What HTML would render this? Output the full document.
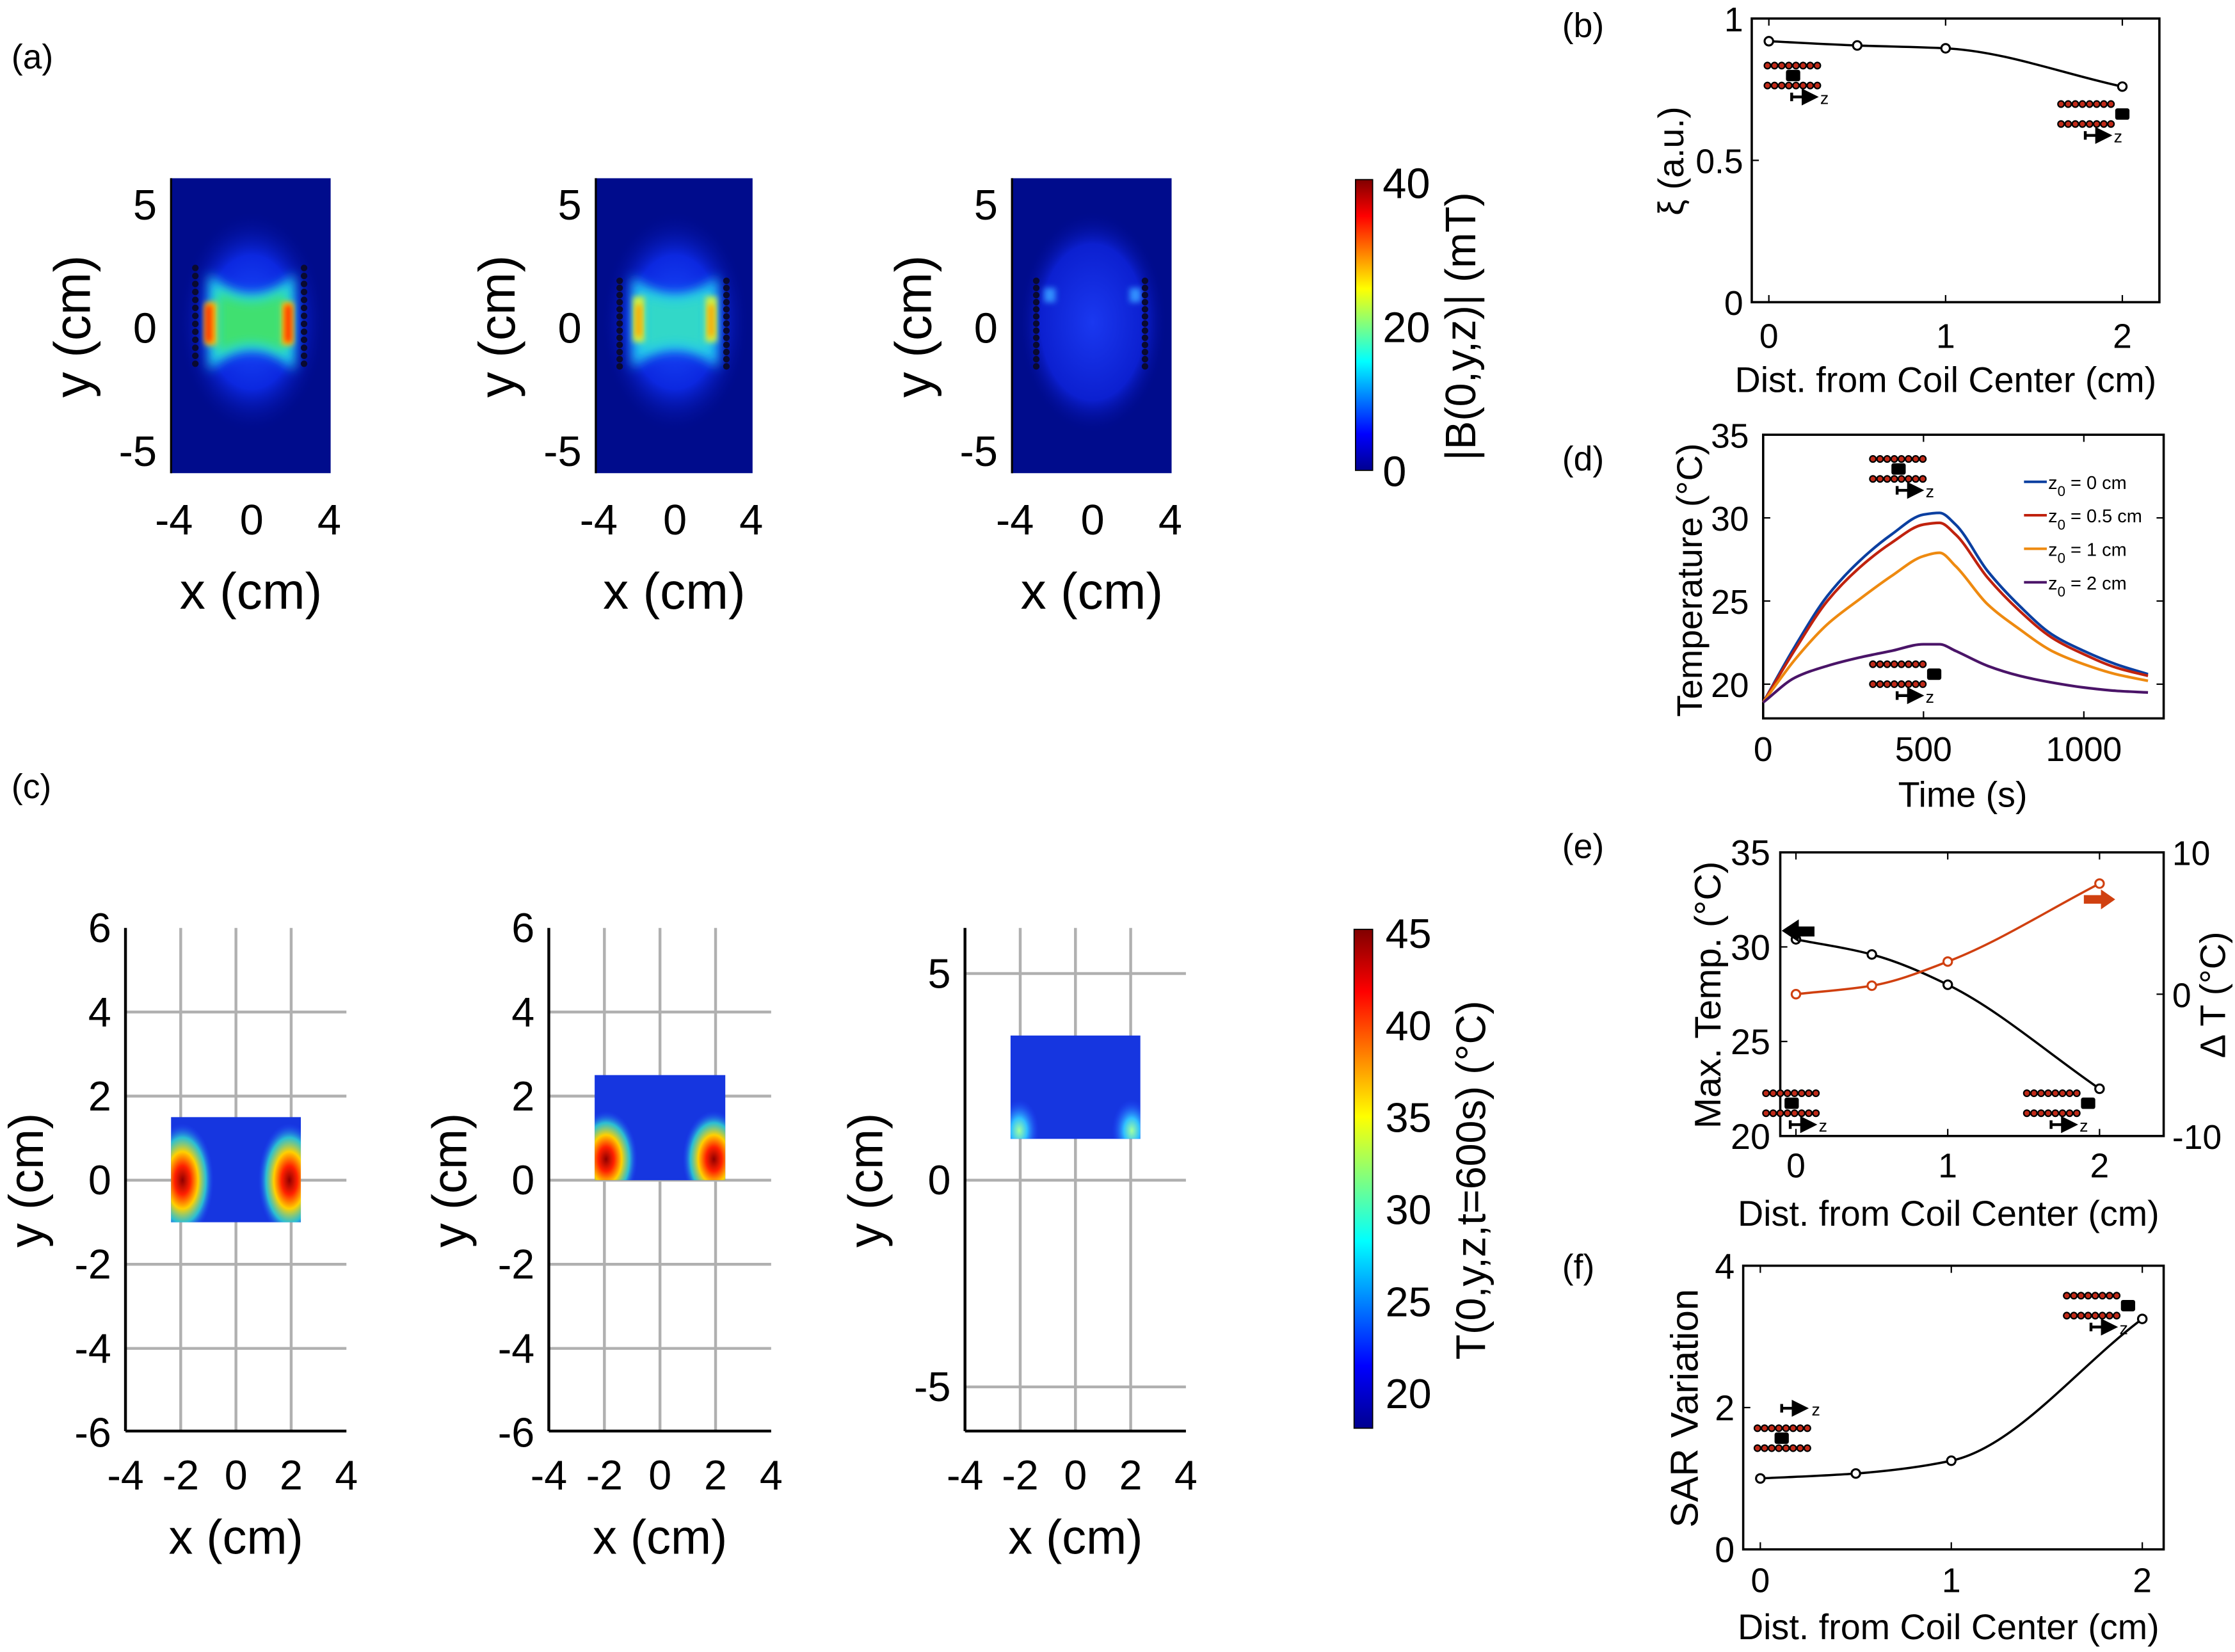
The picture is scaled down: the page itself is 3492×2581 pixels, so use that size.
<!DOCTYPE html>
<html><head><meta charset="utf-8"><style>
html,body{margin:0;padding:0;background:#fff}
svg{display:block}
text{font-family:"Liberation Sans",sans-serif;fill:#000}
</style></head><body>
<svg id="fig" xmlns="http://www.w3.org/2000/svg" width="3492" height="2581" viewBox="0 0 1568 1159">
<defs>
<linearGradient id="jet" x1="0" y1="1" x2="0" y2="0">
<stop offset="0" stop-color="#00008f"/><stop offset="0.125" stop-color="#0000ff"/><stop offset="0.375" stop-color="#00ffff"/><stop offset="0.625" stop-color="#ffff00"/><stop offset="0.875" stop-color="#ff0000"/><stop offset="1" stop-color="#800000"/>
</linearGradient>
<radialGradient id="glow"><stop offset="0" stop-color="#1a50ff"/><stop offset="0.6" stop-color="#0c28e0"/><stop offset="1" stop-color="#000a90" stop-opacity="0"/></radialGradient>
<radialGradient id="glow3"><stop offset="0" stop-color="#1a38f0"/><stop offset="0.7" stop-color="#0c20d0"/><stop offset="1" stop-color="#000a90" stop-opacity="0"/></radialGradient>
<radialGradient id="tRed"><stop offset="0" stop-color="#900000"/><stop offset="0.25" stop-color="#ff2000"/><stop offset="0.5" stop-color="#ffd000"/><stop offset="0.75" stop-color="#30e0d0" stop-opacity="0.8"/><stop offset="1" stop-color="#2040ff" stop-opacity="0"/></radialGradient>
<radialGradient id="tCyan"><stop offset="0" stop-color="#a0ffa0"/><stop offset="0.4" stop-color="#30c0ff"/><stop offset="1" stop-color="#2040ff" stop-opacity="0"/></radialGradient>
<filter id="blur4" x="-50%" y="-50%" width="200%" height="200%"><feGaussianBlur stdDeviation="4"/></filter>
<filter id="blur2" x="-50%" y="-50%" width="200%" height="200%"><feGaussianBlur stdDeviation="2"/></filter>
<marker id="ah" markerWidth="6" markerHeight="6" refX="5" refY="3" orient="auto"><path d="M0,0L6,3L0,6z" fill="#000"/></marker>
</defs>
<g id="root"></g>
</svg>
<script>
// ---------- data ----------
const bDist = [0, 0.5, 1, 2];
const bXi = [0.92, 0.905, 0.895, 0.76];
const dTime = [0,100,200,300,400,500,550,600,700,800,900,1000,1100,1200];
const dZ0 = [18.9,22.3,25.3,27.4,29.0,30.2,30.3,29.6,26.8,24.7,23.0,22.0,21.2,20.6];
const dZ05 = [18.9,22.1,25.0,27.0,28.5,29.6,29.7,29.0,26.4,24.4,22.8,21.8,21.0,20.5];
const dZ1 = [18.9,21.5,23.6,25.1,26.5,27.7,27.9,27.1,24.8,23.3,22.0,21.2,20.6,20.2];
const dZ2 = [18.9,20.4,21.1,21.6,22.0,22.4,22.4,22.0,21.1,20.5,20.1,19.8,19.6,19.5];
const dLabels = ["z0 = 0 cm","z0 = 0.5 cm","z0 = 1 cm","z0 = 2 cm"];
const eDist = [0, 0.5, 1, 2];
const eMaxT = [30.4, 29.6, 28.0, 22.5];
const eDeltaT = [0, 0.6, 2.3, 7.8];
const fDist = [0, 0.5, 1, 2];
const fSAR = [1.0, 1.07, 1.25, 3.25];
const aXTicks = [-4, 0, 4];
const aYTicks = [5, 0, -5];
const cXTicks = [-4,-2,0,2,4];
const cYTicks = [6,4,2,0,-2,-4,-6];
const c3YTicks = [5,0,-5];
const cHeatY = [[-1,1.5],[0,2.5],[1,3.5]];

// ---------- helpers ----------
const NS="http://www.w3.org/2000/svg";
const root=document.getElementById('root');
function el(tag,attrs,parent,txt){const e=document.createElementNS(NS,tag);for(const k in attrs)e.setAttribute(k,attrs[k]);if(txt!==undefined)e.textContent=txt;(parent||root).appendChild(e);return e;}
function lin(d0,d1,r0,r1){return v=>r0+(v-d0)*(r1-r0)/(d1-d0);}
function smooth(pts){ // monotone cubic
 const n=pts.length,dx=[],m=[],t=[];
 for(let i=0;i<n-1;i++){dx[i]=pts[i+1][0]-pts[i][0];m[i]=(pts[i+1][1]-pts[i][1])/dx[i];}
 t[0]=m[0];t[n-1]=m[n-2];
 for(let i=1;i<n-1;i++){t[i]=(m[i-1]*m[i]<=0)?0:(3*(dx[i-1]+dx[i]))/((2*dx[i]+dx[i-1])/m[i-1]+(dx[i]+2*dx[i-1])/m[i]);}
 let d=`M${pts[0][0]},${pts[0][1]}`;
 for(let i=0;i<n-1;i++){const h=dx[i]/3;d+=`C${pts[i][0]+h},${pts[i][1]+t[i]*h} ${pts[i+1][0]-h},${pts[i+1][1]-t[i+1]*h} ${pts[i+1][0]},${pts[i+1][1]}`;}
 return d;}
function polyl(pts){return 'M'+pts.map(p=>p.join(',')).join('L');}

[["(a)",8,48],["(c)",8,560],["(b)",1096,26],["(d)",1096,330],["(e)",1096,602],["(f)",1096,897]].forEach(([t,x,y])=>{
 const e=el('text',{x:x,y:y,'font-size':24},root,t);
 
 
});

// ---------- panel (a) ----------
const aPlots=[{x0:120,x1:232,type:0},{x0:418,x1:528,type:1},{x0:710,x1:822,type:2}];
aPlots.forEach((p,i)=>{
 const g=el('g',{});
 
 
 const sx=lin(-4,4,p.x0+2,p.x1-1), sy=lin(5,-5,143,316);
 const top=125,bot=332;
 const clip=el('clipPath',{id:'ac'+i},g);el('rect',{x:p.x0,y:top,width:p.x1-p.x0,height:bot-top},clip);
 const hg=el('g',{'clip-path':`url(#ac${i})`},g);
 el('rect',{x:p.x0,y:top,width:p.x1-p.x0,height:bot-top,fill:'#000c8c'},hg);
 const cx=sx(0),cy=sy(0.2);
 el('ellipse',{cx:cx,cy:cy,rx:52,ry:78,fill:p.type===2?'url(#glow3)':'url(#glow)'},hg);
 const L=sx(-2.9),R=sx(2.7);
 function hour(w,h,pinch,fill,f){el('path',{d:`M${cx-w},${cy-h}Q${cx},${cy-pinch} ${cx+w},${cy-h}L${cx+w},${cy+h}Q${cx},${cy+pinch} ${cx-w},${cy+h}Z`,fill:fill,filter:f},hg);}
 if(p.type===0){
  hour(30,34,6,'#20d8e8','url(#blur4)');
  hour(24,22,8,'#40e070','url(#blur4)');
  [[sx(-2.1),1],[sx(1.85),-1]].forEach(([x,s])=>{el('rect',{x:x-4,y:cy-14,width:8,height:30,fill:'#ffd000',filter:'url(#blur2)'},hg);el('rect',{x:x-3+s*-1,y:cy-12,width:5,height:26,fill:'#ff3000',filter:'url(#blur2)'},hg);});
 }else if(p.type===1){
  hour(30,32,8,'#20c8f0','url(#blur4)');
  hour(22,20,10,'#30d8c8','url(#blur4)');
  [sx(-1.9),sx(1.9)].forEach(x=>{el('rect',{x:x-4,y:cy-18,width:8,height:32,fill:'#d0f040',filter:'url(#blur2)'},hg);el('rect',{x:x-2,y:cy-12,width:4,height:22,fill:'#ffa000',filter:'url(#blur2)'},hg);});
 }else{
  [sx(-2.2),sx(2.2)].forEach(x=>el('rect',{x:x-4,y:cy-24,width:8,height:10,fill:'#3090ff',filter:'url(#blur2)'},hg));
 }
 const n=13,y0=p.type===0?188:197,step=p.type===0?5.6:5.0;
 [L,R].forEach(x=>{for(let k=0;k<n;k++){el('circle',{cx:x,cy:y0+k*step,r:2.3,fill:'#0a0a30'},hg);}});
 el('line',{x1:p.x0,y1:top,x2:p.x0,y2:bot,stroke:'#000','stroke-width':1.5},g);
 aXTicks.forEach(v=>{el('text',{x:sx(v),y:375,'font-size':30,'text-anchor':'middle'},g,v);});
 aYTicks.forEach(v=>{el('text',{x:p.x0-10,y:sy(v)+11,'font-size':30,'text-anchor':'end'},g,v);});
 el('text',{x:(p.x0+p.x1)/2,y:427,'font-size':36,'text-anchor':'middle'},g,'x (cm)');
 el('text',{x:0,y:0,'font-size':36,'text-anchor':'middle',transform:`translate(${p.x0-57},229) rotate(-90)`},g,'y (cm)');
});
{const g=el('g',{});
 el('rect',{x:951,y:126,width:12,height:204,fill:'url(#jet)',stroke:'#000','stroke-width':0.8},g);
 const cy=lin(0,40,330,128);[0,20,40].forEach(v=>el('text',{x:970,y:cy(v)+11,'font-size':30},g,v));
 el('text',{x:0,y:0,'font-size':30,'text-anchor':'middle',transform:'translate(1035,229) rotate(-90)'},g,'|B(0,y,z)| (mT)');}

// ---------- panel (c) ----------
const cPlots=[{x0:88,x1:243,yt:cYTicks},{x0:385,x1:541,yt:cYTicks},{x0:677,x1:832,yt:c3YTicks}];
cPlots.forEach((p,i)=>{
 const g=el('g',{});
 const sx=lin(-4,4,p.x0,p.x1), sy=i<2?lin(6,-6,651,1005):lin(5,-5,683,973);
 const yTop=651,yBot=1004;
 [-2,0,2].forEach(v=>el('line',{x1:sx(v),y1:yTop,x2:sx(v),y2:yBot,stroke:'#b0b0b0','stroke-width':2},g));
 (i<2?[4,2,0,-2,-4]:[5,0,-5]).forEach(v=>el('line',{x1:p.x0,y1:sy(v),x2:p.x1,y2:sy(v),stroke:'#b0b0b0','stroke-width':2},g));
 const [h0,h1]=cHeatY[i];
 const hx0=sx(-2.35),hx1=sx(2.35),hy0=sy(h1),hy1=sy(h0);
 el('rect',{x:hx0,y:hy0,width:hx1-hx0,height:hy1-hy0,fill:'#1636e0'},g);
 const clip=el('clipPath',{id:'cc'+i},g);el('rect',{x:hx0,y:hy0,width:hx1-hx0,height:hy1-hy0},clip);
 const hg=el('g',{'clip-path':`url(#cc${i})`},g);
 const hy=sy(i===0?0:0.5);
 if(i<2){[hx0+8,hx1-8].forEach(x=>el('ellipse',{cx:x,cy:hy,rx:22,ry:i===0?40:34,fill:'url(#tRed)'},hg));}
 else{[hx0+6,hx1-6].forEach(x=>el('ellipse',{cx:x,cy:sy(1.2),rx:14,ry:22,fill:'url(#tCyan)'},hg));}
 el('line',{x1:p.x0,y1:yTop,x2:p.x0,y2:yBot,stroke:'#000','stroke-width':2},g);
 el('line',{x1:p.x0,y1:yBot,x2:p.x1,y2:yBot,stroke:'#000','stroke-width':2},g);
 cXTicks.forEach(v=>el('text',{x:sx(v),y:1045,'font-size':29,'text-anchor':'middle'},g,v));
 p.yt.forEach(v=>el('text',{x:p.x0-10,y:sy(v)+10,'font-size':29,'text-anchor':'end'},g,v));
 el('text',{x:(p.x0+p.x1)/2,y:1090,'font-size':34,'text-anchor':'middle'},g,'x (cm)');
 el('text',{x:0,y:0,'font-size':34,'text-anchor':'middle',transform:`translate(${p.x0-58},828) rotate(-90)`},g,'y (cm)');
});
{const g=el('g',{});
 el('rect',{x:950,y:652,width:13,height:350,fill:'url(#jet)',stroke:'#000','stroke-width':0.8},g);
 const cy=lin(20,45,978,655);[20,25,30,35,40,45].forEach(v=>el('text',{x:972,y:cy(v)+10,'font-size':29},g,v));
 el('text',{x:0,y:0,'font-size':29,'text-anchor':'middle',transform:'translate(1042,828) rotate(-90)'},g,'T(0,y,z,t=600s) (°C)');}

function coil(x,y,pos,g){
 for(const ry of [y,y+14])for(let k=0;k<8;k++){el('circle',{cx:x+k*5,cy:ry,r:2.2,fill:'#c02a18',stroke:'#000','stroke-width':1},g);}
 const bx=pos==='center'?x+13:x+38;
 el('rect',{x:bx,y:y+3,width:10,height:8,rx:1.5,fill:'#000'},g);
 el('line',{x1:x+17,y1:y+22,x2:x+34,y2:y+22,stroke:'#000','stroke-width':2,'marker-end':'url(#ah)'},g);
 el('line',{x1:x+17,y1:y+19,x2:x+17,y2:y+25,stroke:'#000','stroke-width':2},g);
 el('text',{x:x+37,y:y+27,'font-size':12},g,'z');
}
function frame(g,x0,y0,x1,y1){el('rect',{x:x0,y:y0,width:x1-x0,height:y1-y0,fill:'none',stroke:'#000','stroke-width':1.6},g);}

// ---------- panel (b) ----------
{const g=el('g',{});
 const X0=1229,sx=lin(0,2,1241,1489),sy=lin(0,1,212,13);
 frame(g,X0,13,1515,212);
 [0,1,2].forEach(v=>{el('line',{x1:sx(v),y1:212,x2:sx(v),y2:207,stroke:'#000'},g);el('line',{x1:sx(v),y1:13,x2:sx(v),y2:18,stroke:'#000'},g);el('text',{x:sx(v),y:244,'font-size':24,'text-anchor':'middle'},g,v);});
 [[0,'0'],[0.5,'0.5'],[1,'1']].forEach(([v,t])=>{el('line',{x1:X0,y1:sy(v),x2:X0+5,y2:sy(v),stroke:'#000'},g);el('text',{x:X0-6,y:sy(v)+9,'font-size':24,'text-anchor':'end'},g,t);});
 el('text',{x:1365,y:275,'font-size':25,'text-anchor':'middle'},g,'Dist. from Coil Center (cm)');
 el('text',{x:0,y:0,'font-size':25,'text-anchor':'middle',transform:'translate(1181,113) rotate(-90)'},g,'ξ (a.u.)');
 const pts=bDist.map((d,i)=>[sx(d),sy(bXi[i])]);
 el('path',{d:smooth(pts),fill:'none',stroke:'#000','stroke-width':1.6},g);
 pts.forEach(p=>el('circle',{cx:p[0],cy:p[1],r:3,fill:'#fff',stroke:'#000','stroke-width':1.4},g));
 coil(1240,46,'center',g);coil(1446,73,'edge',g);}

// ---------- panel (d) ----------
{const g=el('g',{});
 const X0=1237,sx=lin(0,1000,1237,1462),sy=lin(20,35,480,305);
 frame(g,X0,305,1518,504);
 [0,500,1000].forEach(v=>{el('line',{x1:sx(v),y1:504,x2:sx(v),y2:499,stroke:'#000'},g);el('line',{x1:sx(v),y1:305,x2:sx(v),y2:310,stroke:'#000'},g);el('text',{x:sx(v),y:534,'font-size':24,'text-anchor':'middle'},g,v);});
 [20,25,30,35].forEach(v=>{el('line',{x1:X0,y1:sy(v),x2:X0+5,y2:sy(v),stroke:'#000'},g);el('line',{x1:1518,y1:sy(v),x2:1513,y2:sy(v),stroke:'#000'},g);el('text',{x:X0-10,y:sy(v)+9,'font-size':24,'text-anchor':'end'},g,v);});
 el('text',{x:1377,y:566,'font-size':25,'text-anchor':'middle'},g,'Time (s)');
 el('text',{x:0,y:0,'font-size':25,'text-anchor':'middle',transform:'translate(1194,407) rotate(-90)'},g,'Temperature (°C)');
 const series=[dZ0,dZ05,dZ1,dZ2],cols=['#0b3fa0','#c0220e','#ee8a10','#4a1468'];
 series.forEach((s,j)=>{const e=el('path',{d:smooth(dTime.map((t,i)=>[sx(t),sy(s[i])])),fill:'none',stroke:cols[j],'stroke-width':1.9},g);
  
  const ly=338+j*23.5;el('line',{x1:1420,y1:ly,x2:1436,y2:ly,stroke:cols[j],'stroke-width':1.8},g);
  const t=el('text',{x:1437,y:ly+5,'font-size':13},g);t.innerHTML='z<tspan dy="5" font-size="10">0</tspan><tspan dy="-5"> '+dLabels[j].slice(3)+'</tspan>';});
 coil(1314,322,'center',g);coil(1314,466,'edge',g);}

// ---------- panel (e) ----------
{const g=el('g',{});
 const X0=1249,sx=lin(0,2,1260,1473),sy=lin(20,35,797,598),sy2=lin(-10,10,797,598);
 frame(g,X0,598,1518,797);
 [0,1,2].forEach(v=>{el('line',{x1:sx(v),y1:797,x2:sx(v),y2:792,stroke:'#000'},g);el('line',{x1:sx(v),y1:598,x2:sx(v),y2:603,stroke:'#000'},g);el('text',{x:sx(v),y:826,'font-size':24,'text-anchor':'middle'},g,v);});
 [20,25,30,35].forEach(v=>{el('line',{x1:X0,y1:sy(v),x2:X0+5,y2:sy(v),stroke:'#000'},g);el('text',{x:X0-7,y:sy(v)+9,'font-size':25,'text-anchor':'end'},g,v);});
 [-10,0,10].forEach(v=>{el('line',{x1:1518,y1:sy2(v),x2:1513,y2:sy2(v),stroke:'#000'},g);el('text',{x:1524,y:sy2(v)+9,'font-size':24},g,v);});
 el('text',{x:1367,y:860,'font-size':25,'text-anchor':'middle'},g,'Dist. from Coil Center (cm)');
 el('text',{x:0,y:0,'font-size':26,'text-anchor':'middle',transform:'translate(1207,698) rotate(-90)'},g,'Max. Temp. (°C)');
 el('text',{x:0,y:0,'font-size':25,'text-anchor':'middle',transform:'translate(1561,698) rotate(-90)'},g,'Δ T (°C)');
 const p1=eDist.map((d,i)=>[sx(d),sy(eMaxT[i])]),p2=eDist.map((d,i)=>[sx(d),sy2(eDeltaT[i])]);
 el('path',{d:smooth(p1),fill:'none',stroke:'#000','stroke-width':1.6},g);
 el('path',{d:smooth(p2),fill:'none',stroke:'#d04010','stroke-width':1.6},g);
 p1.forEach(p=>el('circle',{cx:p[0],cy:p[1],r:3,fill:'#fff',stroke:'#000','stroke-width':1.4},g));
 p2.forEach(p=>el('circle',{cx:p[0],cy:p[1],r:3,fill:'#fff',stroke:'#d04010','stroke-width':1.4},g));
 el('path',{d:'M1250,653L1262,645L1262,650L1273,650L1273,657L1262,657L1262,661z',fill:'#000'},g);
 el('path',{d:'M1462,628L1474,628L1474,624L1484,631L1474,638L1474,634L1462,634z',fill:'#d04010'},g);
 coil(1239,767,'center',g);coil(1422,767,'edge',g);}

// ---------- panel (f) ----------
{const g=el('g',{});
 const X0=1223,sx=lin(0,2,1235,1503),sy=lin(0,4,1087,888);
 frame(g,X0,888,1518,1087);
 [0,1,2].forEach(v=>{el('line',{x1:sx(v),y1:1087,x2:sx(v),y2:1082,stroke:'#000'},g);el('line',{x1:sx(v),y1:888,x2:sx(v),y2:893,stroke:'#000'},g);el('text',{x:sx(v),y:1117,'font-size':24,'text-anchor':'middle'},g,v);});
 [0,2,4].forEach(v=>{el('line',{x1:X0,y1:sy(v),x2:X0+5,y2:sy(v),stroke:'#000'},g);el('text',{x:X0-6,y:sy(v)+9,'font-size':25,'text-anchor':'end'},g,v);});
 el('text',{x:1367,y:1150,'font-size':25,'text-anchor':'middle'},g,'Dist. from Coil Center (cm)');
 el('text',{x:0,y:0,'font-size':27,'text-anchor':'middle',transform:'translate(1191,988) rotate(-90)'},g,'SAR Variation');
 const pts=fDist.map((d,i)=>[sx(d),sy(fSAR[i])]);
 el('path',{d:smooth(pts),fill:'none',stroke:'#000','stroke-width':1.6},g);
 pts.forEach(p=>el('circle',{cx:p[0],cy:p[1],r:3,fill:'#fff',stroke:'#000','stroke-width':1.4},g));
 // upper-left icon: arrow above coil
 const ig=el('g',{},g);
 for(const ry of [1002,1016])for(let k=0;k<8;k++){el('circle',{cx:1233+k*5,cy:ry,r:2.2,fill:'#c02a18',stroke:'#000','stroke-width':1},ig);}
 el('rect',{x:1245,y:1005,width:10,height:8,rx:1.5,fill:'#000'},ig);
 el('line',{x1:1250,y1:988,x2:1267,y2:988,stroke:'#000','stroke-width':2,'marker-end':'url(#ah)'},ig);
 el('line',{x1:1250,y1:985,x2:1250,y2:991,stroke:'#000','stroke-width':2},ig);
 el('text',{x:1271,y:993,'font-size':12},ig,'z');
 coil(1450,909,'edge',g);}
</script>
</body></html>
